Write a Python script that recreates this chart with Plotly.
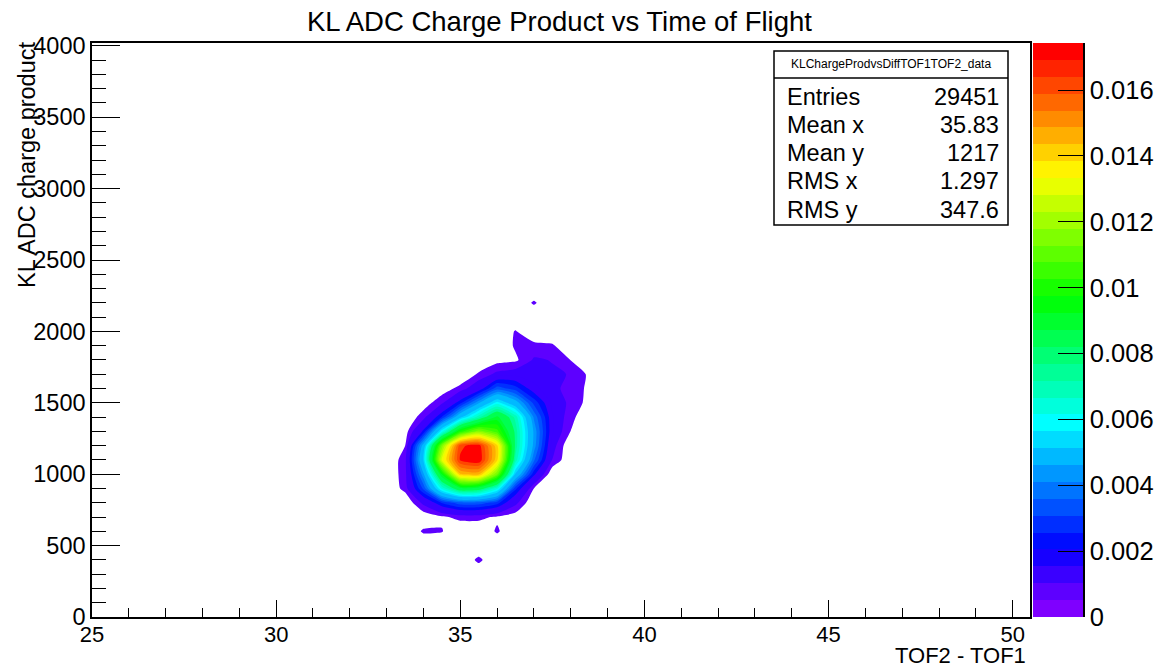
import colorsys
import plotly.graph_objects as go

W, H = 1154, 669


def fx(p):
    return p / W


def fy(p):
    return 1 - p / H


# ---------------- data ----------------
tof_bins = [32.5, 33.0, 33.5, 34.0, 34.5, 35.0, 35.5, 36.0, 36.5, 37.0, 37.5, 38.0, 38.5, 39.0, 39.5]
adc_bins = [300, 400, 500, 600, 700, 800, 900, 1000, 1100, 1200, 1300, 1400,
            1500, 1600, 1700, 1800, 1900, 2000, 2100, 2200, 2300]

row_300 = [0, 0, 0, 0, 0, 0, 0, 0, 0, 0, 0, 0, 0, 0, 0]
row_400 = [0, 0, 0, 0, 0, 0, 0.00065, 0, 0, 0, 0, 0, 0, 0, 0]
row_500 = [0, 0, 0, 0, 0, 0, 0, 0, 0, 0, 0, 0, 0, 0, 0]
row_600 = [0, 0, 0, 0.0006, 0.00055, 0, 0, 0.0006, 0, 0, 0, 0, 0, 0, 0]
row_700 = [0, 0, 0, 0.0001, 0.0004, 0.0007, 0.0007, 0.0004, 0.0002, 0, 0, 0, 0, 0, 0]
row_800 = [0, 0, 0, 0.0012, 0.0026, 0.0034, 0.0034, 0.0028, 0.0012, 0, 0, 0, 0, 0, 0]
row_900 = [0, 0, 0.0007, 0.0032, 0.0068, 0.0090, 0.0088, 0.0068, 0.0027, 0.0005, 0, 0, 0, 0, 0]
row_1000 = [0, 0, 0.0008, 0.0045, 0.0098, 0.0148, 0.0150, 0.0118, 0.0055, 0.0022, 0, 0, 0, 0, 0]
row_1100 = [0, 0, 0.0008, 0.0057, 0.0135, 0.0170, 0.0174, 0.0145, 0.0075, 0.0037, 0.0010, 0, 0, 0, 0]
row_1200 = [0, 0, 0.0005, 0.0050, 0.0120, 0.0168, 0.0172, 0.0145, 0.0080, 0.0044, 0.0013, 0, 0, 0, 0]
row_1300 = [0, 0, 0.0002, 0.0022, 0.0065, 0.0105, 0.0122, 0.0110, 0.0080, 0.0045, 0.0016, 0.0005, 0, 0, 0]
row_1400 = [0, 0, 0, 0.0008, 0.0026, 0.0054, 0.0075, 0.0094, 0.0075, 0.0040, 0.0016, 0.0007, 0, 0, 0]
row_1500 = [0, 0, 0, 0.0002, 0.0009, 0.0024, 0.0045, 0.0064, 0.0050, 0.0029, 0.0014, 0.0009, 0.0003, 0, 0]
row_1600 = [0, 0, 0, 0, 0.0002, 0.0007, 0.0016, 0.0034, 0.0028, 0.0017, 0.0012, 0.0008, 0.0004, 0, 0]
row_1700 = [0, 0, 0, 0, 0, 0, 0.0006, 0.0012, 0.0014, 0.0013, 0.0011, 0.0010, 0.0004, 0, 0]
row_1800 = [0, 0, 0, 0, 0, 0, 0, 0.0003, 0.0004, 0.0011, 0.0010, 0.0005, 0, 0, 0]
row_1900 = [0, 0, 0, 0, 0, 0, 0, 0, 0.0006, 0.0007, 0.0006, 0, 0, 0, 0]
row_2000 = [0, 0, 0, 0, 0, 0, 0, 0, 0.00056, 0, 0, 0, 0, 0, 0]
row_2100 = [0, 0, 0, 0, 0, 0, 0, 0, 0, 0, 0, 0, 0, 0, 0]
row_2200 = [0, 0, 0, 0, 0, 0, 0, 0, 0, 0.0006, 0, 0, 0, 0, 0]
row_2300 = [0, 0, 0, 0, 0, 0, 0, 0, 0, 0, 0, 0, 0, 0, 0]

density = [row_300, row_400, row_500, row_600, row_700, row_800, row_900, row_1000,
           row_1100, row_1200, row_1300, row_1400, row_1500, row_1600, row_1700,
           row_1800, row_1900, row_2000, row_2100, row_2200, row_2300]

z_max = 0.01743
n_levels = 34

cbar_tickvals = [0, 0.002, 0.004, 0.006, 0.008, 0.010, 0.012, 0.014, 0.016]
cbar_ticktext = ["0", "0.002", "0.004", "0.006", "0.008", "0.01", "0.012", "0.014", "0.016"]

stats_names = ["Entries", "Mean x", "Mean y", "RMS x", "RMS y"]
stats_values = ["29451", "35.83", "1217", "1.297", "347.6"]
hist_name = "KLChargeProdvsDiffTOF1TOF2_data"

title_text = "KL ADC Charge Product vs Time of Flight"
x_title = "TOF2 - TOF1"
y_title = "KL ADC charge product"

# ---------------- styling ----------------
FONT = "Liberation Sans, Arial, sans-serif"
step = z_max / n_levels


def pal(j):
    h = 270.0 * (1 - j / (n_levels - 1)) / 360.0
    r, g, b = colorsys.hls_to_rgb(h, 0.5, 1.0)
    return "rgb(%d,%d,%d)" % (round(r * 255), round(g * 255), round(b * 255))


palette = [pal(j) for j in range(n_levels)]

# contour colour scale (background white, band k -> palette[k+1])
nc = n_levels - 1
cont_cs = []


def seg(lst, a, b, c):
    lst.append([a, c])
    lst.append([b, c])


seg(cont_cs, 0.0, 1.0 / nc, "white")
for k in range(0, nc - 2):
    seg(cont_cs, (k + 1) / nc, (k + 2) / nc, palette[k + 1])
seg(cont_cs, (nc - 1) / nc, (nc - 0.25) / nc, palette[nc - 1])
seg(cont_cs, (nc - 0.25) / nc, 1.0, palette[nc])

cb_cs = []
for j in range(n_levels):
    seg(cb_cs, j / n_levels, (j + 1) / n_levels, palette[j])

fig = go.Figure()

fig.add_trace(go.Contour(
    x=tof_bins, y=adc_bins, z=density,
    autocontour=False,
    contours=dict(start=step, end=(n_levels - 1) * step, size=step,
                  coloring="fill", showlines=False),
    colorscale=cont_cs, showscale=False,
    line=dict(width=0, smoothing=0.6),
    hoverinfo="skip", xaxis="x", yaxis="y"))

fig.add_trace(go.Heatmap(
    x=[0], y=[(j + 0.5) * step for j in range(n_levels)],
    z=[[j + 0.5] for j in range(n_levels)],
    zmin=0, zmax=n_levels, colorscale=cb_cs, showscale=False,
    hoverinfo="skip", xaxis="x2", yaxis="y2"))

ydom = [fy(617), fy(43)]

fig.update_layout(
    width=W, height=H,
    margin=dict(l=0, r=0, t=0, b=0),
    paper_bgcolor="white", plot_bgcolor="white",
    showlegend=False,
    font=dict(family=FONT, color="black"),
    xaxis=dict(domain=[fx(92), fx(1030)], range=[25, 50.47], anchor="y",
               tick0=25, dtick=5, ticks="inside", ticklen=17, tickwidth=1, tickcolor="black",
               minor=dict(dtick=1, ticks="inside", ticklen=9, tickwidth=1, tickcolor="black"),
               showline=True, mirror=True, linecolor="black", linewidth=1.5,
               showgrid=False, zeroline=False, automargin=False, ticklabelstandoff=-3,
               tickfont=dict(family=FONT, size=22, color="black")),
    yaxis=dict(domain=ydom, range=[0, 4020], anchor="x",
               tick0=0, dtick=500, ticks="inside", ticklen=28, tickwidth=1, tickcolor="black",
               minor=dict(dtick=100, ticks="inside", ticklen=14, tickwidth=1, tickcolor="black"),
               showline=True, mirror=True, linecolor="black", linewidth=1.5,
               showgrid=False, zeroline=False, automargin=False,
               tickfont=dict(family=FONT, size=23.5, color="black")),
    xaxis2=dict(domain=[fx(1033), fx(1083)], range=[-0.5, 0.5], anchor="y2",
                visible=False, showgrid=False, zeroline=False),
    yaxis2=dict(domain=ydom, range=[0, z_max], anchor="x2", side="right",
                tickvals=cbar_tickvals, ticktext=cbar_ticktext,
                ticks="inside", ticklen=25, tickwidth=1, tickcolor="black",
                showline=True, linecolor="black", linewidth=1.5,
                showgrid=False, zeroline=False, automargin=False,
                tickfont=dict(family=FONT, size=25.5, color="black")),
)

annotations = [
    dict(text=title_text, x=fx(559), y=fy(22), xref="paper", yref="paper",
         xanchor="center", yanchor="middle", showarrow=False,
         font=dict(family=FONT, size=27.5, color="black")),
    dict(text=y_title, x=fx(27), y=fy(40), xref="paper", yref="paper", textangle=-90,
         xanchor="center", yanchor="top", showarrow=False,
         font=dict(family=FONT, size=23.5, color="black")),
    dict(text=x_title, x=fx(1028), y=fy(655), xref="paper", yref="paper",
         xanchor="right", yanchor="middle", showarrow=False,
         font=dict(family=FONT, size=22, color="black")),
    dict(text=hist_name, x=fx(891), y=fy(64.5), xref="paper", yref="paper",
         xanchor="center", yanchor="middle", showarrow=False,
         font=dict(family=FONT, size=12, color="black")),
]
for i, (nm, val) in enumerate(zip(stats_names, stats_values)):
    yy = 96.5 + i * 28.3
    annotations.append(dict(text=nm, x=fx(785), y=fy(yy), xref="paper", yref="paper",
                            xanchor="left", yanchor="middle", showarrow=False,
                            font=dict(family=FONT, size=23.5, color="black")))
    annotations.append(dict(text=val, x=fx(1001), y=fy(yy), xref="paper", yref="paper",
                            xanchor="right", yanchor="middle", showarrow=False,
                            font=dict(family=FONT, size=23.5, color="black")))

fig.update_layout(
    annotations=annotations,
    shapes=[
        dict(type="rect", xref="paper", yref="paper",
             x0=fx(774), x1=fx(1008), y0=fy(225), y1=fy(51),
             line=dict(color="black", width=1.5), fillcolor="white", layer="above"),
        dict(type="line", xref="paper", yref="paper",
             x0=fx(774), x1=fx(1008), y0=fy(78), y1=fy(78),
             line=dict(color="black", width=1.5), layer="above"),
    ],
)

fig.write_html("out.html")
